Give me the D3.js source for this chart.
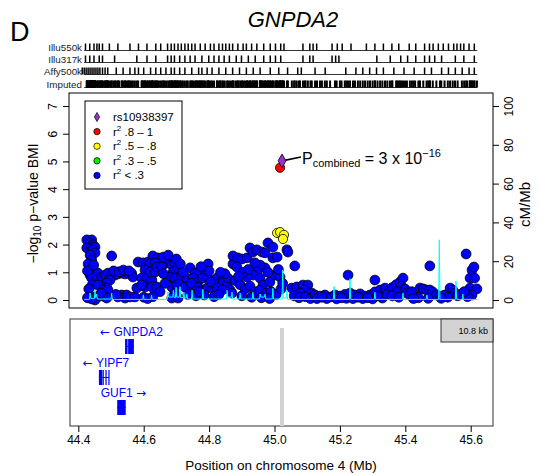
<!DOCTYPE html>
<html>
<head>
<meta charset="utf-8">
<script src="https://cdn.jsdelivr.net/npm/d3@7"></script>
<style>
  body { margin: 0; background: #fff; }
  text { font-family: "Liberation Sans", Arial, Helvetica, sans-serif; }
</style>
</head>
<body>
<div id="chart"></div>
<script>
// ---- data ----
// SNPs: [position Mb, -log10 p]
const snpBlue = [
  [44.426,2.17],[44.441,2.17],[44.436,2.06],[44.445,1.99],[44.426,1.88],[44.441,1.88],[44.451,1.91],[44.445,1.81],
  [44.451,1.70],[44.436,1.62],[44.441,1.44],[44.436,1.19],[44.445,1.16],[44.436,0.90],[44.451,0.90],[44.441,0.79],
  [44.460,0.97],[44.456,0.72],[44.466,0.65],[44.430,1.30],[44.428,1.05],[44.447,1.26],[44.443,0.55],[44.432,0.40],
  [44.436,0.11],[44.451,0.11],[44.451,0.00],[44.440,0.04],[44.428,0.08],
  [44.472,0.83],[44.482,0.90],[44.491,0.97],[44.502,0.90],[44.512,0.90],[44.521,0.94],[44.533,0.97],[44.543,0.94],
  [44.552,0.97],[44.563,0.97],[44.567,0.83],[44.497,0.72],[44.487,0.61],[44.472,0.47],[44.460,0.54],[44.487,0.43],
  [44.476,0.36],[44.491,0.36],[44.502,1.59],[44.466,0.14],[44.482,0.11],[44.533,0.18],[44.548,0.18],[44.543,0.07],
  [44.558,0.11],[44.573,0.11],[44.521,0.11],[44.487,0.07],[44.508,1.05],[44.525,1.02],[44.538,1.08],[44.555,1.05],
  [44.515,0.20],[44.470,0.25],
  [44.583,1.37],[44.598,1.34],[44.613,1.37],[44.628,1.59],[44.644,1.52],[44.619,1.30],[44.635,1.34],[44.604,1.08],
  [44.594,0.79],[44.609,0.79],[44.625,0.72],[44.604,0.47],[44.625,0.47],[44.640,0.47],[44.579,0.43],[44.594,0.54],
  [44.619,1.01],[44.635,1.01],[44.640,1.19],[44.670,1.34],[44.680,1.44],[44.686,1.26],[44.695,1.34],[44.690,1.01],
  [44.705,1.16],[44.680,0.83],[44.695,0.79],[44.686,0.47],[44.701,0.54],[44.711,0.61],[44.716,0.90],[44.695,0.25],
  [44.686,0.07],[44.705,0.07],[44.655,1.20],[44.660,0.95],[44.665,0.60],[44.650,0.30],[44.600,0.10],[44.612,0.05],
  [44.628,0.12],[44.660,1.55],[44.675,1.62],[44.700,1.48],[44.712,1.30],
  [44.742,1.16],[44.757,0.97],[44.772,1.01],[44.788,1.08],[44.797,1.30],[44.732,0.79],[44.751,0.79],[44.766,0.65],
  [44.781,0.79],[44.797,0.79],[44.726,0.47],[44.748,0.43],[44.763,0.47],[44.778,0.36],[44.794,0.43],[44.809,0.43],
  [44.824,0.79],[44.833,0.61],[44.843,0.65],[44.855,0.54],[44.824,0.43],[44.840,0.36],[44.858,0.79],[44.864,0.36],
  [44.735,0.20],[44.760,0.15],[44.785,0.18],[44.815,0.12],[44.830,0.20],[44.800,1.05],[44.775,1.20],[44.720,1.00],
  [44.745,0.60],[44.770,0.30],[44.805,0.65],[44.848,0.95],[44.835,1.00],
  [44.873,1.30],[44.873,1.59],[44.888,1.52],[44.901,1.48],[44.916,1.52],[44.925,1.88],[44.934,1.73],[44.946,1.81],
  [44.962,1.73],[44.971,1.70],[44.980,2.06],[44.995,1.91],[44.995,1.52],[45.008,1.55],[45.038,1.81],[44.885,1.19],
  [44.971,1.16],[44.956,1.26],[44.940,1.34],[44.946,1.01],[44.934,0.90],[44.916,0.83],[44.956,0.79],[44.965,0.54],
  [44.986,0.65],[45.002,0.90],[45.017,0.83],[44.880,0.70],[44.895,0.55],[44.910,0.40],[44.925,0.50],[44.940,0.30],
  [44.955,0.35],[44.975,0.25],[44.990,0.30],[45.005,0.20],[45.020,0.40],[44.870,0.25],[44.900,0.15],[44.930,0.10],
  [44.960,0.08],[44.985,0.05],[44.905,1.00],[44.920,1.10],[44.980,1.00],[45.012,1.10],[45.025,0.60],[44.890,0.85],
  [45.041,1.73],[45.062,1.23],[45.053,0.43],[45.068,0.47],[45.087,0.54],[45.102,0.54],[45.093,0.36],[45.114,0.25],
  [45.078,0.25],[45.060,0.15],[45.075,0.08],[45.095,0.12],[45.110,0.05],[45.124,0.18],[45.139,0.14],[45.154,0.18],
  [45.170,0.11],[45.185,0.18],[45.200,0.14],[45.215,0.20],[45.225,0.90],[45.231,0.25],[45.246,0.18],[45.262,0.22],
  [45.277,0.14],[45.292,0.18],[45.307,0.72],[45.307,0.29],[45.323,0.36],[45.338,0.43],[45.353,0.36],[45.130,0.05],
  [45.160,0.05],[45.190,0.04],[45.220,0.06],[45.240,0.05],[45.270,0.05],[45.300,0.04],[45.330,0.07],[45.345,0.20],
  [45.315,0.15],[45.285,0.08],[45.255,0.10],[45.205,0.08],[45.145,0.10],
  [45.360,0.45],[45.372,0.55],[45.384,0.65],[45.393,0.79],[45.388,0.50],[45.375,0.30],[45.399,0.40],[45.405,0.25],
  [45.360,0.15],[45.380,0.10],[45.414,0.18],[45.430,0.12],[45.445,0.43],[45.455,0.40],[45.465,0.36],[45.475,1.23],
  [45.475,0.36],[45.484,0.29],[45.495,0.18],[45.506,0.14],[45.520,0.18],[45.537,0.43],[45.545,0.36],[45.552,0.25],
  [45.530,0.10],[45.560,0.15],[45.573,0.22],[45.586,1.66],[45.598,0.79],[45.604,1.08],[45.610,1.19],[45.612,0.79],
  [45.598,0.43],[45.619,0.40],[45.604,0.18],[45.590,0.12],[45.580,0.30],[45.470,0.06],[45.440,0.08],[45.420,0.30],
  [45.425,0.05],[45.510,0.06]
];
const snpYellow = [[45.008,2.42],[45.017,2.45],[45.029,2.35],[45.026,2.20]];
const snpRed = [[45.017,4.77]];
const leadSnp = { name: "rs10938397", pos: 45.023, logp: 5.02 };

// recombination rate, [position Mb, cM/Mb]
const recomb = [
  [44.418,0.3],[44.434,0.3],[44.436,3.6],[44.438,0.8],[44.449,0.8],[44.451,5.0],[44.453,1.2],[44.456,3.0],[44.458,0.5],
  [44.500,0.5],[44.502,3.6],[44.504,0.3],[44.597,0.3],[44.599,2.6],[44.601,0.3],[44.622,0.3],[44.624,2.6],[44.626,0.3],
  [44.672,0.3],[44.674,4.0],[44.676,1.5],[44.689,1.5],[44.691,5.0],[44.693,1.2],[44.697,1.2],[44.699,6.5],[44.701,1.5],
  [44.709,1.5],[44.711,6.9],[44.713,1.2],[44.721,1.2],[44.723,4.0],[44.725,1.0],[44.730,1.0],[44.732,3.0],[44.734,0.5],
  [44.746,0.5],[44.748,5.0],[44.750,0.5],[44.779,0.5],[44.781,5.5],[44.783,0.5],[44.853,0.5],[44.855,5.0],[44.857,1.5],
  [44.868,1.5],[44.870,4.0],[44.872,0.5],[44.893,0.5],[44.895,3.5],[44.897,0.5],[44.932,0.5],[44.934,4.0],[44.936,0.5],
  [44.954,0.5],[44.956,3.0],[44.958,1.5],[44.969,1.5],[44.971,3.0],[44.973,0.5],[44.993,0.5],[44.995,6.0],[44.997,0.5],
  [45.023,0.5],[45.025,15.5],[45.027,1.0],[45.036,1.0],[45.038,5.0],[45.040,0.3],[45.180,0.3],[45.182,7.0],[45.184,0.3],
  [45.229,0.3],[45.231,11.0],[45.233,0.3],[45.305,0.3],[45.307,4.0],[45.309,0.3],[45.391,0.3],[45.393,3.5],[45.395,0.3],
  [45.464,0.3],[45.466,2.5],[45.468,0.3],[45.502,0.3],[45.504,31.0],[45.506,0.3],[45.553,0.3],[45.555,9.8],[45.557,0.3],
  [45.574,0.3],[45.576,3.0],[45.578,0.3],[45.619,0.3]
];

// genotyping platform coverage (Mb)
const illu550k = [44.422,44.435,44.448,44.457,44.464,44.474,44.495,44.521,44.558,44.584,44.610,44.637,44.652,44.673,
  44.684,44.694,44.705,44.715,44.726,44.736,44.747,44.757,44.773,44.788,44.804,44.815,44.830,44.841,44.851,44.862,
  44.872,44.888,44.904,44.914,44.930,44.946,44.967,44.987,45.003,45.019,45.029,45.087,45.108,45.118,45.129,45.176,
  45.192,45.207,45.234,45.281,45.307,45.333,45.359,45.380,45.412,45.432,45.459,45.474,45.485,45.501,45.516,45.532,
  45.548,45.558,45.569,45.579,45.595,45.611];
const illu317k = [44.422,44.435,44.448,44.464,44.474,44.511,44.579,44.610,44.637,44.673,44.684,44.694,44.710,44.726,
  44.742,44.757,44.778,44.799,44.815,44.830,44.846,44.862,44.883,44.899,44.920,44.941,44.967,44.987,45.003,45.019,
  45.087,45.108,45.118,45.176,45.187,45.197,45.313,45.354,45.386,45.407,45.432,45.459,45.474,45.490,45.511,45.553,
  45.579,45.611];
const affy500k = [44.412,44.418,44.424,44.430,44.436,44.442,44.448,44.454,44.460,44.466,44.474,44.482,44.490,44.516,
  44.537,44.558,44.573,44.584,44.600,44.621,44.637,44.652,44.668,44.684,44.694,44.710,44.726,44.747,44.768,44.778,
  44.794,44.809,44.830,44.851,44.872,44.893,44.914,44.935,44.956,44.987,45.013,45.040,45.071,45.082,45.124,45.155,
  45.218,45.249,45.270,45.291,45.312,45.333,45.365,45.396,45.427,45.459,45.480,45.511,45.532,45.553,45.574,45.595,
  45.611];
const platforms = ["Illu550k", "Illu317k", "Affy500k", "Imputed"];

// genes (Mb)
const genes = [
  { name: "GNPDA2", strand: -1, start: 44.543, end: 44.570,
    exons: [[44.543,44.550],[44.551,44.554],[44.555,44.570]] },
  { name: "YIPF7", strand: -1, start: 44.463, end: 44.494,
    exons: [[44.463,44.473],[44.474,44.478],[44.483,44.485],[44.492,44.494]] },
  { name: "GUF1", strand: 1, start: 44.519, end: 44.545,
    exons: [[44.519,44.545]] }
];

const xTicks = [44.4, 44.6, 44.8, 45.0, 45.2, 45.4, 45.6];
const yTicks = [0, 1, 2, 3, 4, 5, 6, 7];
const rTicks = [0, 20, 40, 60, 80, 100];
const legendItems = [
  { label: "rs10938397", color: "#9932CC", diamond: true },
  { label: ".8 – 1", color: "red" },
  { label: ".5 – .8", color: "yellow" },
  { label: ".3 – .5", color: "#00EE00" },
  { label: "< .3", color: "blue" }
];

// ---- layout ----
const W = 540, H = 475;
const box = { l: 69, r: 493, t: 93, b: 308 };
const gbox = { l: 70, r: 493, t: 319, b: 426 };

const svg = d3.select("#chart").append("svg")
  .attr("width", W).attr("height", H);

const x = d3.scaleLinear().domain([44.4, 45.6]).range([78.3, 470.7]);
const y = d3.scaleLinear().domain([0, 7]).range([300, 106]);
const yR = d3.scaleLinear().domain([0, 100]).range([300, 106]);

// panel letter + title
svg.append("text").attr("x", 10).attr("y", 41).attr("font-size", 27).text("D");
svg.append("text").attr("x", 293).attr("y", 27).attr("text-anchor", "middle")
  .attr("font-size", 22).attr("font-style", "italic").text("GNPDA2");

// platform coverage rows
const imputed = snpBlue.concat(snpYellow, snpRed, [[leadSnp.pos, leadSnp.logp]]).map(d => d[0]);
const rows = [illu550k, illu317k, affy500k, imputed];
const rowY = [47, 59, 71, 84];
rows.forEach((pos, i) => {
  const g = svg.append("g");
  g.append("text").attr("x", 82).attr("y", rowY[i] + 3.5).attr("text-anchor", "end")
    .attr("font-size", 9.8).attr("fill", "#222").text(platforms[i]);
  g.append("line").attr("x1", x(44.418)).attr("x2", x(45.62))
    .attr("y1", rowY[i] + 3.5).attr("y2", rowY[i] + 3.5)
    .attr("stroke", "#000").attr("stroke-width", 0.8);
  g.selectAll("line.tk").data(pos).enter().append("line").attr("class", "tk")
    .attr("x1", d => x(d)).attr("x2", d => x(d))
    .attr("y1", rowY[i] - 3.5).attr("y2", rowY[i] + 3.5)
    .attr("stroke", "#000").attr("stroke-width", i === 3 ? 2 : 1.5);
});

// main panel
const main = svg.append("g");
main.selectAll("circle.blue").data(snpBlue).enter().append("circle")
  .attr("cx", d => x(d[0])).attr("cy", d => y(d[1])).attr("r", 4.9)
  .attr("fill", "blue").attr("stroke", "#000").attr("stroke-width", 0.8);

main.append("path").datum(recomb)
  .attr("d", d3.line().x(d => x(d[0])).y(d => yR(d[1])))
  .attr("fill", "none").attr("stroke", "#00FFFF").attr("stroke-width", 1);

main.selectAll("circle.yel").data(snpYellow).enter().append("circle")
  .attr("cx", d => x(d[0])).attr("cy", d => y(d[1])).attr("r", 4.6)
  .attr("fill", "yellow").attr("stroke", "#000").attr("stroke-width", 0.8);
main.selectAll("circle.red").data(snpRed).enter().append("circle")
  .attr("cx", d => x(d[0])).attr("cy", d => y(d[1])).attr("r", 4.6)
  .attr("fill", "red").attr("stroke", "#000").attr("stroke-width", 0.8);

// annotation for lead SNP
main.append("line")
  .attr("x1", x(leadSnp.pos)).attr("y1", y(leadSnp.logp))
  .attr("x2", 301).attr("y2", 157).attr("stroke", "#000").attr("stroke-width", 1.6);
main.append("path")
  .attr("d", d3.symbol(d3.symbolDiamond, 55)())
  .attr("transform", `translate(${x(leadSnp.pos)},${y(leadSnp.logp)})`)
  .attr("fill", "#9932CC").attr("stroke", "#000").attr("stroke-width", 0.8);

const ann = main.append("text").attr("x", 302).attr("y", 164).attr("font-size", 16);
ann.append("tspan").text("P");
ann.append("tspan").attr("font-size", 11).attr("dy", 3).text("combined");
ann.append("tspan").attr("dy", -3).text(" = 3 x 10");
ann.append("tspan").attr("font-size", 11).attr("dy", -7).text("−16");

// legend
const lg = main.append("g");
lg.append("rect").attr("x", 85).attr("y", 101).attr("width", 97).attr("height", 88)
  .attr("fill", "#fff").attr("stroke", "#000");
legendItems.forEach((it, i) => {
  const yy = 117 + i * 14.6;
  if (it.diamond) {
    lg.append("path").attr("d", d3.symbol(d3.symbolDiamond, 24)())
      .attr("transform", `translate(97,${yy})`)
      .attr("fill", it.color).attr("stroke", "#000").attr("stroke-width", 0.7);
  } else {
    lg.append("circle").attr("cx", 97).attr("cy", yy).attr("r", 3.2)
      .attr("fill", it.color).attr("stroke", "#000").attr("stroke-width", 0.7);
  }
  const t = lg.append("text").attr("x", 113).attr("y", yy + 4).attr("font-size", 11.5);
  if (it.diamond) {
    t.text(it.label);
  } else {
    t.append("tspan").text("r");
    t.append("tspan").attr("font-size", 8).attr("dy", -5).text("2");
    t.append("tspan").attr("dy", 5).text("  " + it.label);
  }
});

// box
svg.append("rect").attr("x", box.l).attr("y", box.t)
  .attr("width", box.r - box.l).attr("height", box.b - box.t)
  .attr("fill", "none").attr("stroke", "#000").attr("stroke-width", 1);

// left axis
const ax = svg.append("g").attr("transform", `translate(${box.l},0)`)
  .call(d3.axisLeft(y).tickValues(yTicks).tickSize(6).tickFormat(d3.format("d")));
ax.select(".domain").remove();
ax.selectAll("text").attr("transform", "rotate(-90)")
  .attr("x", 0).attr("y", -12.5).attr("dy", 0).attr("text-anchor", "middle")
  .attr("font-size", 12).attr("font-family", "Liberation Sans, Arial");

// right axis
const axr = svg.append("g").attr("transform", `translate(${box.r},0)`)
  .call(d3.axisRight(yR).tickValues(rTicks).tickSize(6).tickFormat(d3.format("d")));
axr.select(".domain").remove();
axr.selectAll("text").attr("transform", "rotate(-90)")
  .attr("x", 0).attr("y", 19.5).attr("dy", 0).attr("text-anchor", "middle")
  .attr("font-size", 12).attr("font-family", "Liberation Sans, Arial");

// axis titles
const yt = svg.append("text").attr("transform", `translate(38,${(box.t + box.b) / 2 + 3}) rotate(-90)`)
  .attr("text-anchor", "middle").attr("font-size", 14);
yt.append("tspan").text("−log");
yt.append("tspan").attr("font-size", 10).attr("dy", 3).text("10");
yt.append("tspan").attr("dy", -3).text(" p−value BMI");

svg.append("text").attr("transform", `translate(530,${(box.t + box.b) / 2 + 4}) rotate(-90)`)
  .attr("text-anchor", "middle").attr("font-size", 15).text("cM/Mb");

// gene panel
const gp = svg.append("g");
gp.append("rect").attr("x", gbox.l).attr("y", gbox.t)
  .attr("width", gbox.r - gbox.l).attr("height", gbox.b - gbox.t)
  .attr("fill", "none").attr("stroke", "#333").attr("stroke-width", 1);

gp.append("rect").attr("x", x(leadSnp.pos) - 2).attr("y", 328)
  .attr("width", 4).attr("height", gbox.b - 328).attr("fill", "#d3d3d3");

const geneTop = [339, 370, 400];
genes.forEach((g, i) => {
  const top = geneTop[i], h = 15;
  gp.append("line").attr("x1", x(g.start)).attr("x2", x(g.end))
    .attr("y1", top + h / 2).attr("y2", top + h / 2)
    .attr("stroke", "blue").attr("stroke-width", 1);
  gp.selectAll(null).data(g.exons).enter().append("rect")
    .attr("x", d => x(d[0])).attr("y", top)
    .attr("width", d => Math.max(1.2, x(d[1]) - x(d[0]))).attr("height", h)
    .attr("fill", "blue");
  const t = gp.append("text").attr("x", x((g.start + g.end) / 2) + 2).attr("y", top - 3)
    .attr("text-anchor", "middle").attr("font-size", 12).attr("fill", "blue");
  if (g.strand < 0) {
    t.append("tspan").attr("font-family", "DejaVu Sans").text("←");
    t.append("tspan").text(" " + g.name);
  } else {
    t.append("tspan").text(g.name + " ");
    t.append("tspan").attr("font-family", "DejaVu Sans").text("→");
  }
});

gp.append("rect").attr("x", 441).attr("y", gbox.t)
  .attr("width", gbox.r - 441).attr("height", 23)
  .attr("fill", "#d3d3d3").attr("stroke", "#333").attr("stroke-width", 1);
gp.append("text").attr("x", 488).attr("y", gbox.t + 15).attr("text-anchor", "end")
  .attr("font-size", 9).text("10.8 kb");

// bottom axis
const axb = svg.append("g").attr("transform", `translate(0,${gbox.b})`)
  .call(d3.axisBottom(x).tickValues(xTicks).tickSize(6).tickFormat(d3.format(".1f")));
axb.select(".domain").remove();
axb.selectAll("text").attr("y", 9).attr("dy", "0.71em")
  .attr("font-size", 12).attr("font-family", "Liberation Sans, Arial");

svg.append("text").attr("x", (box.l + box.r) / 2).attr("y", 470)
  .attr("text-anchor", "middle").attr("font-size", 13.5)
  .text("Position on chromosome 4 (Mb)");
</script>
</body>
</html>
